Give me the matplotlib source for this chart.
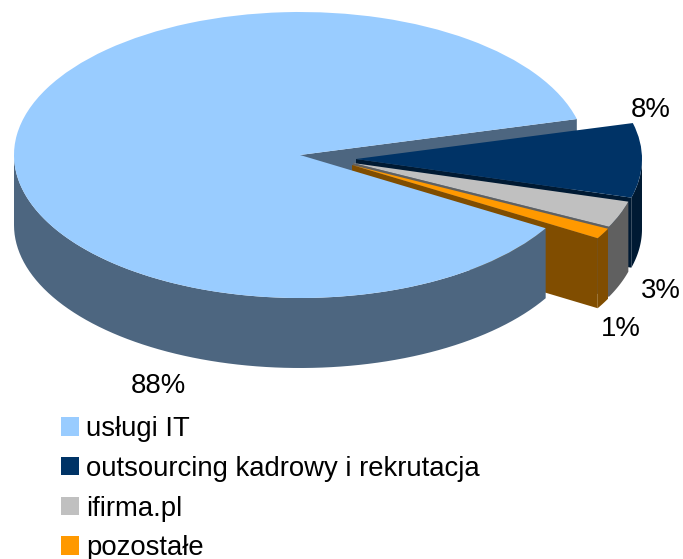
import numpy as np
import matplotlib
matplotlib.use("Agg")
import matplotlib.pyplot as plt
from matplotlib.patches import Polygon

categories = ["usługi IT", "outsourcing kadrowy i rekrutacja", "ifirma.pl", "pozostałe"]
values = [87.4, 8.4, 3.0, 1.2]
pct_labels = ["88%", "8%", "3%", "1%"]
top_colors = ["#99CCFF", "#003366", "#C0C0C0", "#FF9900"]
side_colors = ["#4D6680", "#001A33", "#606060", "#804D00"]

W, H = 683, 559
CX, CY, RX, RY, DEPTH = 300, 155, 286, 143, 70
START = 329.2
# slice apex positions, pixels
apex_px = [(300, 155), (356, 159), (353, 163), (352, 165)]
label_px = [(158, 386), (651, 110), (661, 291), (621, 329)]

plt.rcParams["font.family"] = ["Liberation Sans", "DejaVu Sans"]
fig = plt.figure(figsize=(W / 100, H / 100), dpi=100)
ax = fig.add_axes([0, 0, 1, 1])

def d(px, py):
    return (px - CX) / RX, (CY - py) / RY

wedges, _ = ax.pie(values, startangle=START, counterclock=False, colors=top_colors,
                   wedgeprops=dict(linewidth=0))
ax.set_aspect("auto")
ax.set_xlim(*[(v - CX) / RX for v in (0, W)])
ax.set_ylim((CY - H) / RY, CY / RY)
ax.axis("off")
dz = DEPTH / RY

def wall(c, a0, a1, color, z):
    a0, a1 = min(a0, a1), max(a0, a1)
    if a1 <= a0:
        return
    t = np.radians(np.linspace(a0, a1, 80))
    x, y = c[0] + np.cos(t), c[1] + np.sin(t)
    pts = np.r_[np.c_[x, y], np.c_[x[::-1], y[::-1] - dz]]
    ax.add_patch(Polygon(pts, closed=True, fc=color, ec="none", zorder=z))

def cut(c, a, color, z):
    t = np.radians(a)
    e = (c[0] + np.cos(t), c[1] + np.sin(t))
    pts = [c, e, (e[0], e[1] - dz), (c[0], c[1] - dz)]
    ax.add_patch(Polygon(pts, closed=True, fc=color, ec="none", zorder=z))

def norm(a):
    return (a + 180) % 360 - 180

w0 = wedges[0]
main_hi = max(norm(w0.theta1), norm(w0.theta2))
main_lo = min(norm(w0.theta1), norm(w0.theta2))
c0 = d(*apex_px[0])
cut(c0, main_hi, side_colors[0], 1)
for i in (1, 2, 3):
    w = wedges[i]
    c = d(*apex_px[i])
    w.set_center(c)
    base = 2 + i * 3
    lo, hi = sorted((norm(w.theta1), norm(w.theta2)))
    cut(c, lo, side_colors[i], base)
    wall(c, lo, min(hi, 0), side_colors[i], base + 1)
    w.set_zorder(base + 2)
wall(c0, -180, main_lo, side_colors[0], 20)
w0.set_center(c0)
w0.set_zorder(21)

fs = 19.85
fpx = fs * 100 / 72
for txt, (px, py) in zip(pct_labels, label_px):
    ax.text(*d(px, py), txt, fontsize=fs, color="black", ha="center", va="center", zorder=30)

leg = ax.legend(wedges, categories, loc="upper left", bbox_to_anchor=(61 / W, 1 - 416 / H),
                bbox_transform=fig.transFigure, frameon=False, fontsize=fs, borderpad=0, borderaxespad=0,
                handlelength=18 / fpx, handleheight=18 / fpx, handletextpad=7 / fpx,
                labelspacing=0.5, labelcolor="black")
leg.set_zorder(30)

fig.savefig("out.png", dpi=100)
